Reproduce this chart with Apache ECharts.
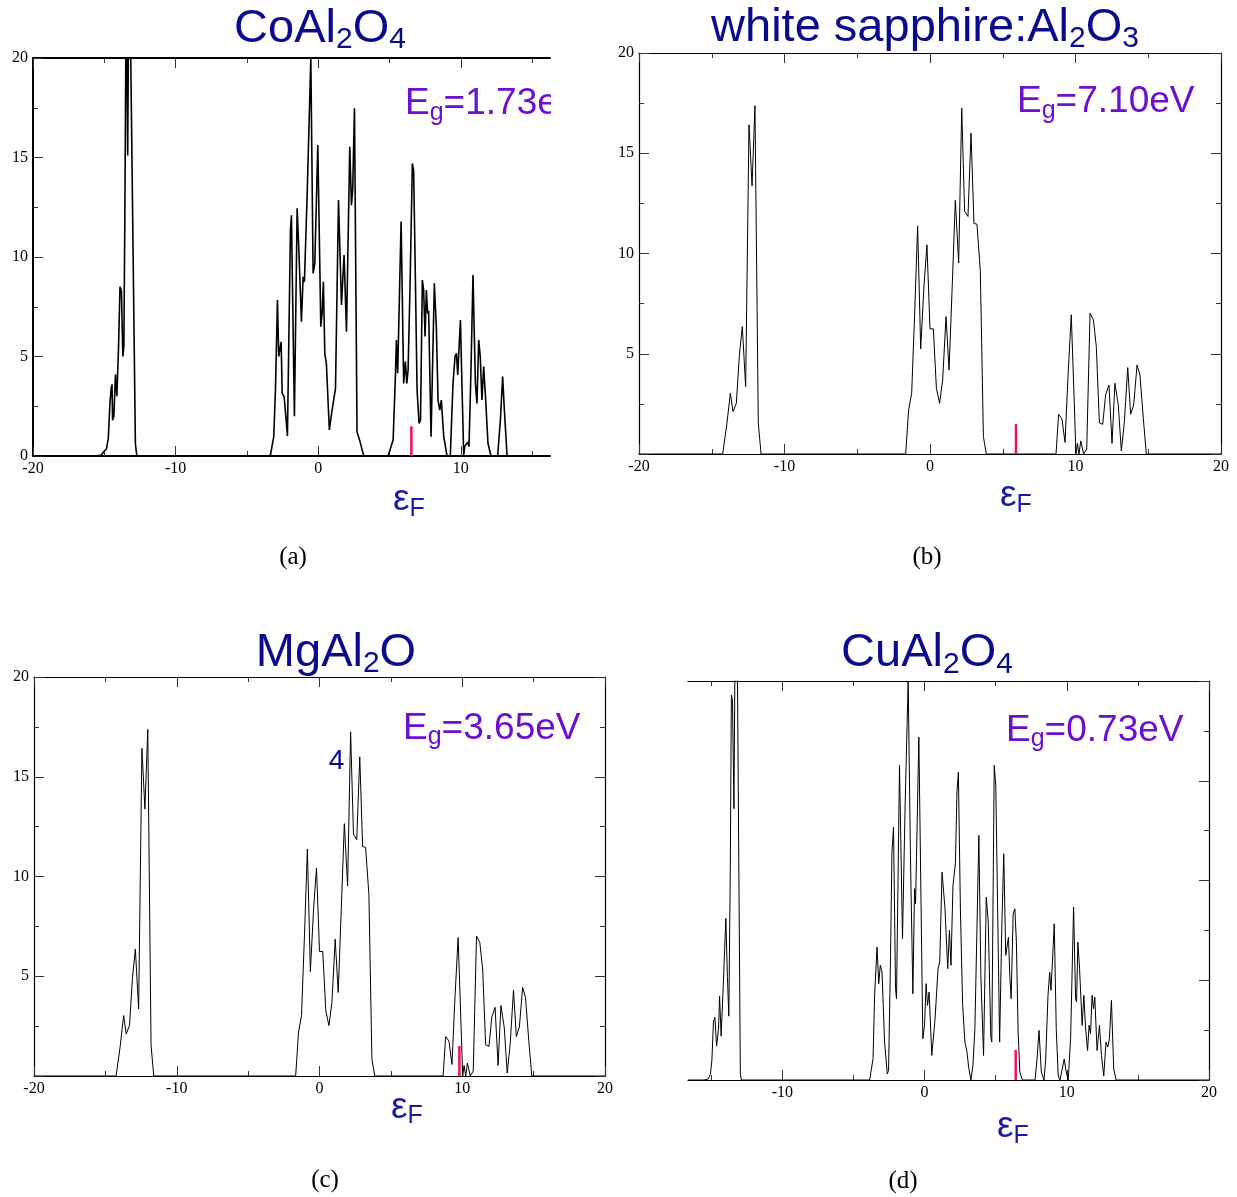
<!DOCTYPE html>
<html>
<head>
<meta charset="utf-8">
<title>DOS</title>
<script src="https://cdn.jsdelivr.net/npm/echarts@6/dist/echarts.min.js"></script>
<style>
  html, body { margin: 0; padding: 0; background: #fff; }
  #main { width: 1237px; height: 1197px; }
</style>
</head>
<body>
<div id="main"></div>
<script type="text/javascript">
// tick values
var xMajor = [-20, -10, 0, 10, 20];
var yLabelsA = [0, 5, 10, 15, 20];
var yLabelsBC = [5, 10, 15, 20];

// density of states, [energy, dos]
var dosA = [[-20,0],[-15.6,0],[-15.2,0.05],[-15.0,0.25],[-14.85,0.35],[-14.72,0.9],[-14.61,2.6],[-14.52,3.4],[-14.46,3.6],[-14.42,1.8],[-14.33,2.0],[-14.22,4.1],[-14.12,3.0],[-14.0,5.5],[-13.9,8.5],[-13.8,8.3],[-13.7,5.0],[-13.63,5.5],[-13.56,12],[-13.46,24],[-13.36,15.1],[-13.28,24],[-13.18,22],[-12.82,0.6],[-12.72,0],
  [-3.5,0],[-3.35,0.05],[-3.12,0.97],[-3.0,3.3],[-2.86,7.84],[-2.77,5.0],[-2.67,4.9],[-2.6,5.74],[-2.53,3.15],[-2.39,2.98],[-2.16,1.0],[-1.95,11.36],[-1.88,12.1],[-1.67,2.0],[-1.48,12.45],[-1.36,10.35],[-1.18,6.75],[-1.06,9.0],[-0.97,8.76],[-0.78,13.03],[-0.52,19.98],[-0.36,9.18],[-0.24,9.68],[-0.15,9.6],[-0.03,15.63],[0.18,6.5],[0.27,7.16],[0.36,8.76],[0.46,5.16],[0.57,4.66],[0.78,1.31],[0.97,2.31],[1.21,3.4],[1.42,12.86],[1.63,7.59],[1.81,10.1],[1.98,6.25],[2.21,15.54],[2.33,12.6],[2.42,13.5],[2.54,17.47],[2.72,1.22],[2.93,0.72],[3.19,0],
  [4.9,0],[5.01,0.05],[5.25,0.8],[5.41,4.0],[5.48,5.83],[5.57,4.16],[5.81,11.78],[5.99,3.65],[6.11,4.74],[6.21,3.65],[6.30,4.32],[6.44,8.68],[6.60,14.7],[6.69,14.3],[6.78,10.35],[6.93,3.32],[7.07,1.64],[7.17,1.8],[7.30,8.84],[7.39,8.34],[7.49,6.0],[7.58,8.34],[7.67,7.16],[7.74,7.3],[7.91,0.97],[8.03,4.99],[8.14,8.68],[8.28,6.5],[8.40,2.81],[8.52,2.31],[8.63,2.81],[8.80,0.97],[9.03,0],[9.26,0],[9.45,3.65],[9.59,4.99],[9.69,5.16],[9.78,4.07],[9.97,6.83],[10.08,3.48],[10.20,0.05],[10.27,0.47],[10.39,0.4],[10.48,0.7],[10.57,0.47],[10.71,4.32],[10.85,9.1],[11.02,3.65],[11.13,2.64],[11.25,5.83],[11.36,4.99],[11.48,2.81],[11.60,4.49],[11.74,2.81],[11.90,0.64],[12.11,0],[12.58,0],[12.77,1.8],[12.93,3.99],[13.05,2.31],[13.24,0],[16.25,0]];

// (b) and (c) show the same curve
var dosB = [[-20,0],[-14.25,0],[-13.97,1.45],[-13.72,3.03],[-13.54,2.11],[-13.31,2.53],[-13.10,4.94],[-12.90,6.36],[-12.67,3.36],[-12.44,16.42],[-12.23,13.38],[-12.03,17.37],[-11.80,1.53],[-11.61,0],
  [-1.67,0],[-1.47,2.2],[-1.26,3.03],[-1.05,7.1],[-0.85,11.38],[-0.64,5.24],[-0.41,8.44],[-0.21,10.43],[0.0,6.24],[0.23,6.24],[0.44,3.28],[0.66,2.53],[0.87,3.69],[1.10,6.86],[1.31,4.19],[1.53,8.44],[1.74,12.65],[1.97,9.52],[2.18,17.25],[2.38,12.1],[2.61,11.85],[2.82,16.0],[3.02,11.5],[3.23,11.46],[3.46,9.1],[3.67,0.87],[3.87,0],
  [8.66,0],[8.84,1.98],[9.07,1.75],[9.28,0.58],[9.48,3.78],[9.71,6.94],[9.92,2.45],[10.03,0],[10.13,0.53],[10.24,0],[10.36,0.65],[10.56,0],[10.77,0.25],[11.0,7.02],[11.23,6.69],[11.43,5.36],[11.64,1.56],[11.87,1.48],[12.07,2.95],[12.30,3.44],[12.51,0.53],[12.71,3.53],[12.94,2.45],[13.15,0.15],[13.36,1.61],[13.59,4.31],[13.79,1.98],[14.0,2.45],[14.23,4.44],[14.43,3.94],[14.66,1.78],[14.87,0],[20,0]];
var dosC = dosB;

var dosD = [[-16.63,0],[-15.5,0],[-15.2,0.05],[-15.05,0.3],[-14.95,1.0],[-14.84,2.9],[-14.74,3.15],[-14.62,1.7],[-14.48,2.6],[-14.41,4.2],[-14.3,2.2],[-14.17,4.4],[-13.97,8.1],[-13.86,5.2],[-13.76,3.2],[-13.66,10.3],[-13.58,19.3],[-13.5,19.0],[-13.4,13.6],[-13.3,24],[-13.17,22],[-12.95,0.3],[-12.88,0],
  [-3.86,0],[-3.62,1.07],[-3.51,4.24],[-3.34,6.66],[-3.22,4.83],[-3.11,5.75],[-2.99,5.42],[-2.81,1.9],[-2.62,0.3],[-2.53,0.47],[-2.39,6.25],[-2.29,11.42],[-2.18,12.68],[-2.04,4.58],[-1.97,4.08],[-1.76,15.77],[-1.55,7.08],[-1.36,13.93],[-1.15,20.0],[-0.99,11.26],[-0.82,4.32],[-0.70,9.59],[-0.63,8.84],[-0.40,17.19],[-0.12,2.07],[0.0,2.74],[0.11,4.83],[0.21,3.74],[0.32,4.41],[0.51,1.23],[0.74,3.07],[0.95,5.58],[1.07,5.92],[1.23,10.42],[1.44,8.58],[1.63,5.58],[1.75,7.5],[1.86,5.75],[2.0,9.75],[2.17,10.84],[2.28,14.43],[2.38,15.43],[2.52,8.58],[2.68,3.74],[2.84,1.9],[2.98,1.43],[3.1,0.64],[3.26,0],[3.40,0.72],[3.54,2.57],[3.66,2.65],[3.82,12.26],[3.96,5.24],[4.15,1.23],[4.34,9.17],[4.48,7.92],[4.66,2.15],[4.73,1.9],[4.90,15.77],[5.01,14.77],[5.28,1.9],[5.43,7.58],[5.57,11.34],[5.71,6.25],[5.81,6.17],[5.90,7.16],[6.0,5.16],[6.09,4.08],[6.23,8.33],[6.35,8.58],[6.46,6.9],[6.58,2.4],[6.70,0.4],[6.88,0],
  [7.77,0],[7.91,1.05],[8.05,2.49],[8.21,0.4],[8.40,0],[8.52,1.05],[8.68,4.24],[8.80,5.41],[8.89,4.49],[8.98,5.75],[9.12,7.83],[9.26,2.57],[9.40,0.2],[9.52,0],[9.68,0.55],[9.82,1.05],[9.96,0.4],[10.10,0],[10.27,2.07],[10.48,8.67],[10.62,4.08],[10.69,3.91],[10.78,6.91],[10.90,5.58],[11.08,2.74],[11.2,4.24],[11.32,2.65],[11.46,1.48],[11.57,2.74],[11.67,2.32],[11.78,4.24],[11.88,3.57],[11.97,4.16],[12.13,1.48],[12.30,2.74],[12.44,1.23],[12.60,0.2],[12.76,1.9],[12.88,1.65],[13.0,2.07],[13.14,3.99],[13.30,0.55],[13.47,0],[20,0]];

// fermi level marks and band gaps
var fermiLevels = [6.53, 5.91, 9.8, 6.41];
var fermiMarkHeight = 1.5;
var gapValues = ['1.73eV', '7.10eV', '3.65eV', '0.73eV'];
var titles = ['{m|CoAl}{s|2}{m|O}{s|4}', '{m|white sapphire:Al}{s|2}{m|O}{s|3}', '{m|MgAl}{s|2}{m|O}', '{m|CuAl}{s|2}{m|O}{s|4}'];
var panelTags = ['(a)', '(b)', '(c)', '(d)'];

var panels = [
    {grid: {left: 33, top: 58, width: 517, height: 398}, xMin: -20, xMax: 16.25, data: dosA, left: true, right: false, yLabels: yLabelsA, axisW: 2, lineW: 1.6},
    {grid: {left: 639, top: 53, width: 582, height: 401}, xMin: -20, xMax: 20, data: dosB, left: true, right: true, yLabels: yLabelsBC, axisW: 1.2, lineW: 1},
    {grid: {left: 34, top: 677, width: 571, height: 399}, xMin: -20, xMax: 20, data: dosC, left: true, right: true, yLabels: yLabelsBC, axisW: 1.2, lineW: 1},
    {grid: {left: 688, top: 681, width: 521, height: 399}, xMin: -16.63, xMax: 20, data: dosD, left: false, right: true, yLabels: [], axisW: 1.2, lineW: 1}
];

// text placement
var titlePos = [[320, 28.7], [925, 28.2], [336, 652.7], [927, 653.3]];
var gapPos = [[405, 104.2], [1017, 102.2], [403, 728.5], [1006, 730.4]];
var epsPos = [[393, 500.2], [1000, 496.2], [391, 1107.9], [997, 1127.2]];
var tagPos = [[293, 557], [927, 557], [325, 1180], [903, 1181.5]];

var tickColor = '#333';
var labelFont = {fontFamily: 'Liberation Serif', fontSize: 16, color: '#000'};

var grids = [], xAxes = [], yAxes = [], series = [], graphics = [];

panels.forEach(function (p, i) {
    grids.push(p.grid);
    var xTicks = xMajor.filter(function (v) { return v >= p.xMin && v <= p.xMax; });
    function xAxis(pos, labels) {
        var ax = {
            gridIndex: i, type: 'value', position: pos, min: p.xMin, max: p.xMax,
            axisLine: {show: true, onZero: false, lineStyle: {color: '#000', width: p.axisW}},
            axisTick: {show: true, inside: true, length: 10, customValues: xTicks, lineStyle: {color: tickColor}},
            minorTick: {show: true, splitNumber: 2, length: 5, lineStyle: {color: tickColor}},
            axisLabel: labels ? Object.assign({show: true, margin: 5, customValues: xTicks}, labelFont) : {show: false},
            splitLine: {show: false}
        };
        if (p.xMin % 10 === 0) ax.interval = 10;
        return ax;
    }
    function yAxis(pos, visible, labels) {
        return {
            gridIndex: i, type: 'value', position: pos, min: 0, max: 20, interval: 5, show: visible,
            axisLine: {show: true, onZero: false, lineStyle: {color: '#000', width: p.axisW}},
            axisTick: {show: true, inside: true, length: 10, lineStyle: {color: tickColor}},
            minorTick: {show: true, splitNumber: 2, length: 5, lineStyle: {color: tickColor}},
            axisLabel: labels.length ? Object.assign({show: true, margin: 5, customValues: labels}, labelFont) : {show: false},
            splitLine: {show: false}
        };
    }
    var xi = xAxes.length;
    xAxes.push(xAxis('bottom', true));
    xAxes.push(xAxis('top', false));
    var yi = yAxes.length;
    yAxes.push(yAxis('left', p.left, p.yLabels));
    if (p.right) yAxes.push(yAxis('right', true, []));

    series.push({
        type: 'line', xAxisIndex: xi, yAxisIndex: yi, data: p.data,
        symbol: 'none', clip: true, z: 2,
        lineStyle: {color: '#000', width: p.lineW}
    });
    series.push({
        type: 'line', xAxisIndex: xi, yAxisIndex: yi,
        data: [[fermiLevels[i], 0], [fermiLevels[i], fermiMarkHeight]],
        symbol: 'none', z: 3,
        lineStyle: {color: '#f0115a', width: 2.5}
    });

    graphics.push({
        type: 'text', x: titlePos[i][0], y: titlePos[i][1], z: 50,
        style: {
            text: titles[i], align: 'center', verticalAlign: 'middle',
            rich: {
                m: {fontSize: 47, fontFamily: 'Liberation Sans', fill: '#0a0a8e', lineHeight: 52},
                s: {fontSize: 30, fontFamily: 'Liberation Sans', fill: '#0a0a8e', lineHeight: 30, verticalAlign: 'bottom'}
            }
        }
    });
    graphics.push({
        type: 'text', x: gapPos[i][0], y: gapPos[i][1], z: 50,
        style: {
            text: '{m|E}{s|g}{m|=' + gapValues[i] + '}', align: 'left', verticalAlign: 'middle',
            rich: {
                m: {fontSize: 37, fontFamily: 'Liberation Sans', fill: '#6c0fd0', lineHeight: 42},
                s: {fontSize: 25, fontFamily: 'Liberation Sans', fill: '#6c0fd0', lineHeight: 24, verticalAlign: 'bottom'}
            }
        }
    });
    graphics.push({
        type: 'text', x: epsPos[i][0], y: epsPos[i][1], z: 50,
        style: {
            text: '{m|ε}{s|F}', align: 'left', verticalAlign: 'middle',
            rich: {
                m: {fontSize: 37, fontFamily: 'Liberation Sans', fill: '#1a1aa6', lineHeight: 42},
                s: {fontSize: 25, fontFamily: 'Liberation Sans', fill: '#1a1aa6', lineHeight: 24, verticalAlign: 'bottom'}
            }
        }
    });
    graphics.push({
        type: 'text', x: tagPos[i][0], y: tagPos[i][1], z: 50,
        style: {text: panelTags[i], align: 'center', verticalAlign: 'middle', fontSize: 25, fontFamily: 'Liberation Serif', fill: '#000'}
    });
});

// stray label in (c)
graphics.push({
    type: 'text', x: 336.5, y: 761, z: 50,
    style: {text: '4', align: 'center', verticalAlign: 'middle', fontSize: 28, fontFamily: 'Liberation Sans', fill: '#0a0a8e'}
});
// panel (a) is cut off on the right
graphics.push({type: 'rect', shape: {x: 551, y: 80, width: 50, height: 55}, style: {fill: '#fff'}, z: 100});

var myChart = echarts.init(document.getElementById('main'), null, {renderer: 'canvas'});
myChart.setOption({
    animation: false,
    backgroundColor: '#fff',
    grid: grids,
    xAxis: xAxes,
    yAxis: yAxes,
    series: series,
    graphic: graphics
});
</script>
</body>
</html>
